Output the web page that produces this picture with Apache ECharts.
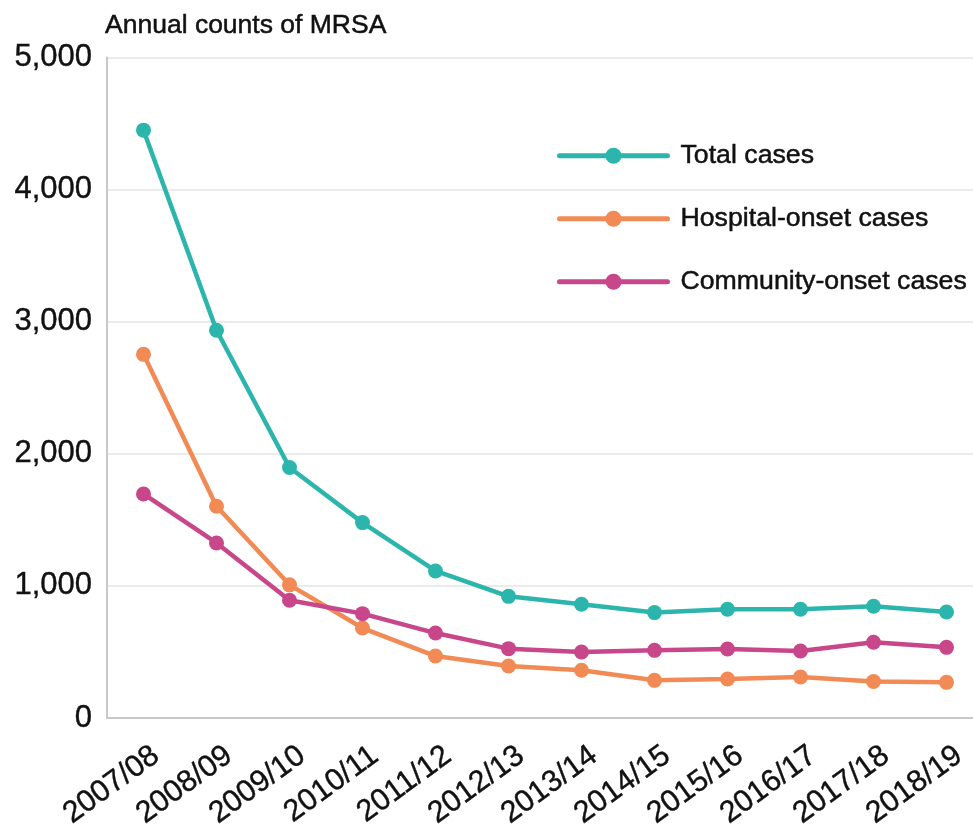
<!DOCTYPE html>
<html>
<head>
<meta charset="utf-8">
<script src="https://cdn.jsdelivr.net/npm/echarts@6/dist/echarts.min.js"></script>
<style>
html,body{margin:0;padding:0;background:#fff;overflow:hidden;}
#chart{width:983px;height:828px;}
</style>
</head>
<body>
<div id="chart"></div>
<script>
const categories = ['2007/08','2008/09','2009/10','2010/11','2011/12','2012/13','2013/14','2014/15','2015/16','2016/17','2017/18','2018/19'];
const totalCases = [4450, 2935, 1896, 1479, 1113, 921, 861, 798, 823, 823, 846, 802];
const hospitalOnset = [2753, 1603, 1008, 681, 469, 394, 361, 285, 295, 310, 276, 270];
const communityOnset = [1696, 1325, 891, 790, 643, 525, 500, 512, 522, 507, 573, 535];
const yTicks = [0, 1000, 2000, 3000, 4000, 5000];
const seriesNames = ['Total cases', 'Hospital-onset cases', 'Community-onset cases'];
const colors = ['#2bb5ad', '#f28a55', '#c8468a'];

const FONT = '"Liberation Sans", Arial, Helvetica, sans-serif';
const TXT = '#111111';
const chart = echarts.init(document.getElementById('chart'), null, {renderer: 'canvas'});

function mkSeries(name, data, color) {
  return {
    name: name,
    type: 'line',
    data: data,
    symbol: 'circle',
    symbolSize: 15,
    color: color,
    lineStyle: {width: 4.5, color: color},
    itemStyle: {color: color},
    emphasis: {disabled: true}
  };
}

chart.setOption({
  animation: false,
  backgroundColor: '#ffffff',
  textStyle: {fontFamily: FONT},
  title: {
    text: 'Annual counts of MRSA',
    left: 100,
    top: 7,
    padding: [5, 5, 5, 5],
    textStyle: {fontFamily: FONT, fontSize: 26.5, fontWeight: 'normal', color: TXT,
      textBorderColor: TXT, textBorderWidth: 0.5}
  },
  legend: {
    orient: 'vertical',
    left: 557,
    top: 142,
    padding: 0,
    itemWidth: 108,
    itemHeight: 20,
    itemGap: 35.5,
    data: seriesNames,
    lineStyle: {width: 5, cap: 'round'},
    textStyle: {fontFamily: FONT, fontSize: 26.7, color: TXT, padding: [0, 0, 0, 8],
      textBorderColor: TXT, textBorderWidth: 0.5}
  },
  grid: {left: 107, right: 0, top: 57.5, bottom: 110, containLabel: false, outerBoundsMode: 'none'},
  xAxis: {
    type: 'category',
    data: categories,
    boundaryGap: true,
    axisLine: {lineStyle: {color: '#c8c8c8', width: 2}},
    axisTick: {alignWithLabel: true, length: 17, lineStyle: {color: '#d0d0d0', width: 2}},
    axisLabel: {
      rotate: 36,
      interval: 0,
      margin: 17,
      align: 'right',
      verticalAlign: 'top',
      padding: [6, 0, 0, 0],
      fontFamily: FONT,
      fontSize: 30.5,
      color: TXT,
      textBorderColor: TXT,
      textBorderWidth: 0.4
    },
    splitLine: {show: false}
  },
  yAxis: {
    type: 'value',
    min: yTicks[0],
    max: yTicks[yTicks.length - 1],
    interval: yTicks[1] - yTicks[0],
    axisLine: {show: true, lineStyle: {color: '#c8c8c8', width: 2}},
    axisTick: {show: false},
    axisLabel: {
      margin: 15,
      fontFamily: FONT,
      fontSize: 31,
      color: TXT,
      textBorderColor: TXT,
      textBorderWidth: 0.4,
      formatter: function (v) { return v.toLocaleString('en-US'); }
    },
    splitLine: {lineStyle: {color: '#ebebeb', width: 2}}
  },
  series: [
    mkSeries(seriesNames[0], totalCases, colors[0]),
    mkSeries(seriesNames[1], hospitalOnset, colors[1]),
    mkSeries(seriesNames[2], communityOnset, colors[2])
  ]
});
</script>
</body>
</html>
